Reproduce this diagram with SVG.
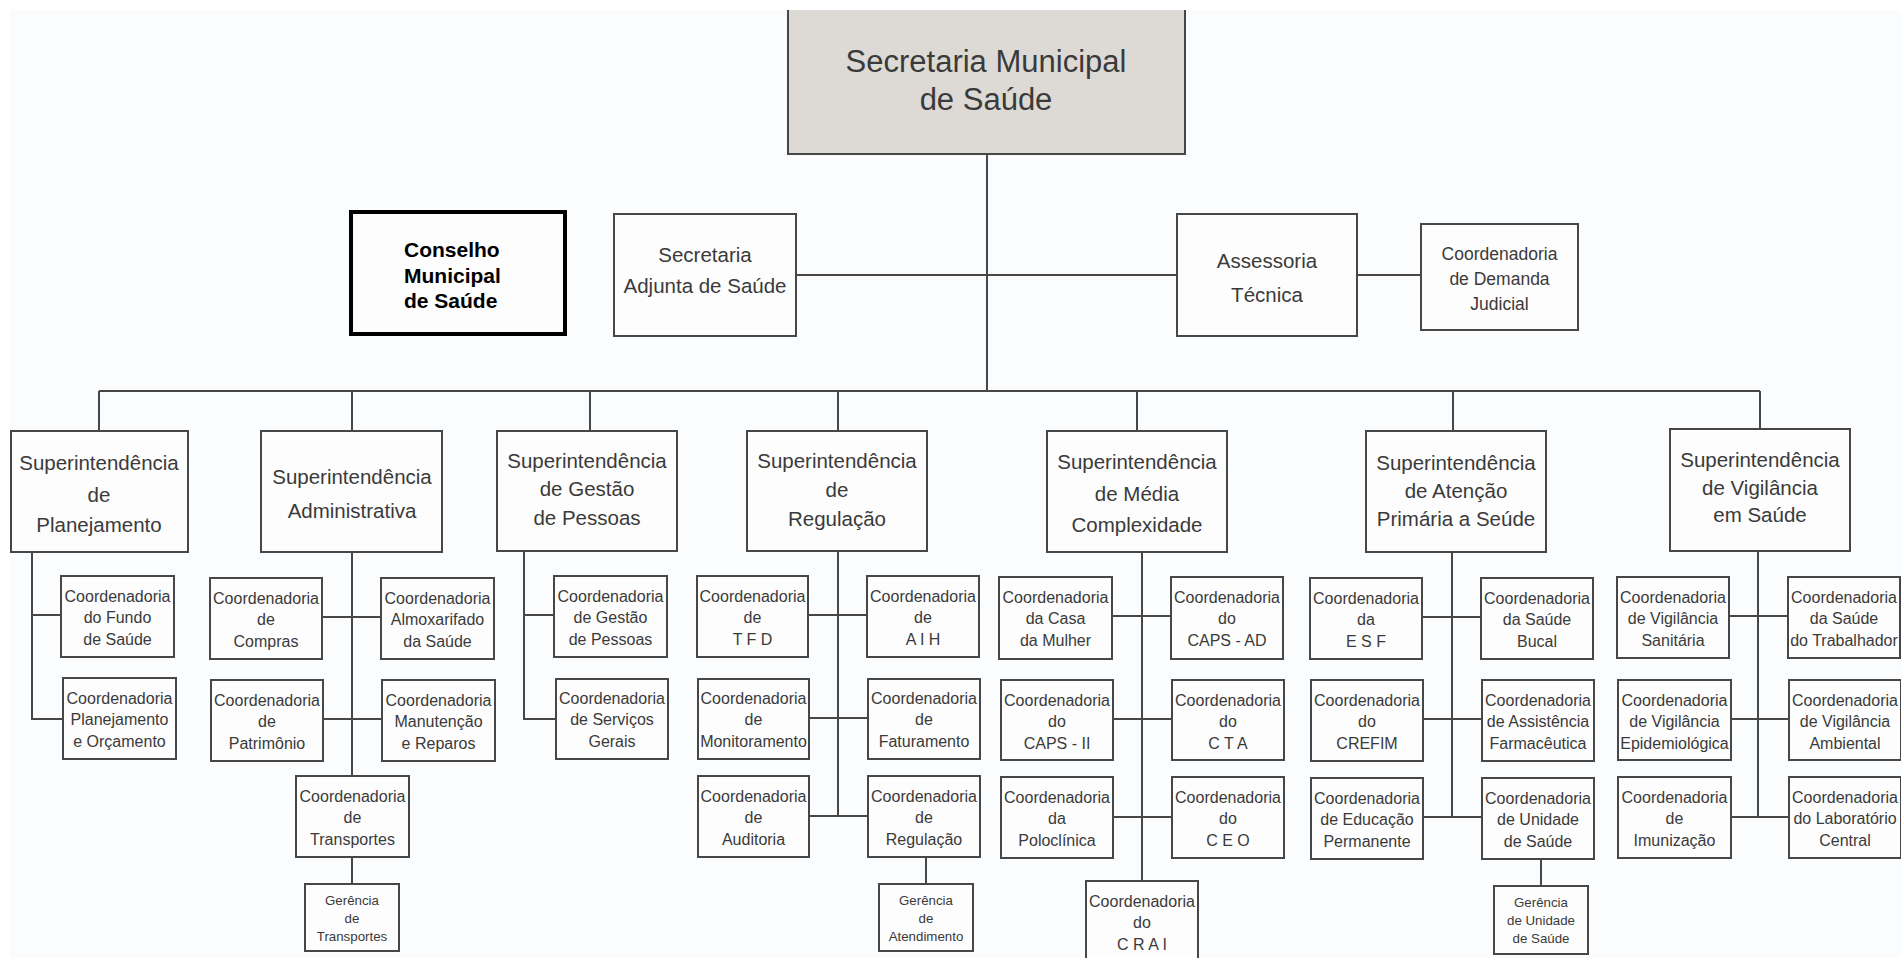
<svg xmlns="http://www.w3.org/2000/svg" width="1901" height="958" viewBox="0 0 1901 958">
<style>
.bg{fill:#fbfcfd}
.box{fill:#fdfdfd;stroke:#474747;stroke-width:2}
.cn{fill:none;stroke:#474747;stroke-width:2}
text{font-family:"Liberation Sans",Arial,sans-serif;fill:#3a3a3a;text-anchor:middle}
.ti{font-size:31px}
.su{font-size:20.5px}
.md{font-size:17.5px}
.co{font-size:16px}
.ge{font-size:13.3px}
.bd{font-size:21px;font-weight:bold;fill:#000;text-anchor:start}
</style>
<rect width="1901" height="958" fill="#ffffff"/>
<rect class="bg" x="10" y="10" width="1891" height="948"/>

<g id="connectors">
<path class="cn" d="M987 154V391M796 275H1177M1357 275H1421M99 391H1760M99 391V431M352 391V431M590 391V431M838 391V431M1137 391V431M1453 391V431M1760 391V429"/>
<path class="cn" d="M32 552V719H63M32 615H61"/>
<path class="cn" d="M352 552V776M322 617H381M323 719H382M352 857V884"/>
<path class="cn" d="M524 551V719H556M524 615H554"/>
<path class="cn" d="M838 551V816M808 615H867M809 718H868M809 816H868M926 857V884"/>
<path class="cn" d="M1142 552V881M1112 616H1171M1113 719H1172M1113 817H1172"/>
<path class="cn" d="M1452 552V817M1422 617H1481M1423 719H1482M1423 817H1482M1541 859V886"/>
<path class="cn" d="M1758 551V817M1729 616H1788M1731 719H1789M1731 817H1789"/>
</g>

<g id="secretaria-municipal">
<rect x="788" y="10" width="397" height="144" fill="#dddad6"/>
<path class="cn" d="M788 10V154H1185V10"/>
<text class="ti" x="986" y="72">Secretaria Municipal</text>
<text class="ti" x="986" y="110">de Saúde</text>
</g>

<g id="conselho">
<rect x="351" y="212" width="214" height="122" fill="#fdfdfd" stroke="#000" stroke-width="4"/>
<text class="bd" x="404" y="257">Conselho</text>
<text class="bd" x="404" y="283">Municipal</text>
<text class="bd" x="404" y="308">de Saúde</text>
</g>

<g id="secretaria-adjunta">
<rect class="box" x="614" y="214" width="182" height="122"/>
<text class="su" x="705" y="262">Secretaria</text>
<text class="su" x="705" y="293">Adjunta de Saúde</text>
</g>

<g id="assessoria">
<rect class="box" x="1177" y="214" width="180" height="122"/>
<text class="su" x="1267" y="268">Assessoria</text>
<text class="su" x="1267" y="302">Técnica</text>
</g>

<g id="demanda-judicial">
<rect class="box" x="1421" y="224" width="157" height="106"/>
<text class="md" x="1499.5" y="260">Coordenadoria</text>
<text class="md" x="1499.5" y="285">de Demanda</text>
<text class="md" x="1499.5" y="310">Judicial</text>
</g>

<g id="sup-planejamento">
<rect class="box" x="11" y="431" width="177" height="121"/>
<text class="su" x="99" y="470">Superintendência</text>
<text class="su" x="99" y="502">de</text>
<text class="su" x="99" y="532">Planejamento</text>
</g>
<g id="sup-administrativa">
<rect class="box" x="261" y="431" width="181" height="121"/>
<text class="su" x="352" y="484">Superintendência</text>
<text class="su" x="352" y="518">Administrativa</text>
</g>
<g id="sup-gestao">
<rect class="box" x="497" y="431" width="180" height="120"/>
<text class="su" x="587" y="468">Superintendência</text>
<text class="su" x="587" y="496">de Gestão</text>
<text class="su" x="587" y="525">de Pessoas</text>
</g>
<g id="sup-regulacao">
<rect class="box" x="747" y="431" width="180" height="120"/>
<text class="su" x="837" y="468">Superintendência</text>
<text class="su" x="837" y="497">de</text>
<text class="su" x="837" y="526">Regulação</text>
</g>
<g id="sup-media">
<rect class="box" x="1047" y="431" width="180" height="121"/>
<text class="su" x="1137" y="469">Superintendência</text>
<text class="su" x="1137" y="501">de Média</text>
<text class="su" x="1137" y="532">Complexidade</text>
</g>
<g id="sup-atencao">
<rect class="box" x="1366" y="431" width="180" height="121"/>
<text class="su" x="1456" y="470">Superintendência</text>
<text class="su" x="1456" y="498">de Atenção</text>
<text class="su" x="1456" y="526">Primária a Seúde</text>
</g>
<g id="sup-vigilancia">
<rect class="box" x="1670" y="429" width="180" height="122"/>
<text class="su" x="1760" y="467">Superintendência</text>
<text class="su" x="1760" y="495">de Vigilância</text>
<text class="su" x="1760" y="522">em Saúde</text>
</g>

<g id="c-fundo"><rect class="box" x="61" y="576" width="113" height="81"/>
<text class="co" x="117.5" y="602">Coordenadoria</text><text class="co" x="117.5" y="623">do Fundo</text><text class="co" x="117.5" y="645">de Saúde</text></g>
<g id="c-planorc"><rect class="box" x="63" y="678" width="113" height="81"/>
<text class="co" x="119.5" y="704">Coordenadoria</text><text class="co" x="119.5" y="725">Planejamento</text><text class="co" x="119.5" y="747">e Orçamento</text></g>

<g id="c-compras"><rect class="box" x="210" y="578" width="112" height="81"/>
<text class="co" x="266" y="604">Coordenadoria</text><text class="co" x="266" y="625">de</text><text class="co" x="266" y="647">Compras</text></g>
<g id="c-almox"><rect class="box" x="381" y="578" width="113" height="81"/>
<text class="co" x="437.5" y="604">Coordenadoria</text><text class="co" x="437.5" y="625">Almoxarifado</text><text class="co" x="437.5" y="647">da Saúde</text></g>
<g id="c-patrimonio"><rect class="box" x="211" y="680" width="112" height="81"/>
<text class="co" x="267" y="706">Coordenadoria</text><text class="co" x="267" y="727">de</text><text class="co" x="267" y="749">Patrimônio</text></g>
<g id="c-manutencao"><rect class="box" x="382" y="680" width="113" height="81"/>
<text class="co" x="438.5" y="706">Coordenadoria</text><text class="co" x="438.5" y="727">Manutenção</text><text class="co" x="438.5" y="749">e Reparos</text></g>
<g id="c-transportes"><rect class="box" x="296" y="776" width="113" height="81"/>
<text class="co" x="352.5" y="802">Coordenadoria</text><text class="co" x="352.5" y="823">de</text><text class="co" x="352.5" y="845">Transportes</text></g>
<g id="g-transportes"><rect class="box" x="305" y="884" width="94" height="67"/>
<text class="ge" x="352" y="905">Gerência</text><text class="ge" x="352" y="923">de</text><text class="ge" x="352" y="941">Transportes</text></g>

<g id="c-gestpessoas"><rect class="box" x="554" y="576" width="113" height="81"/>
<text class="co" x="610.5" y="602">Coordenadoria</text><text class="co" x="610.5" y="623">de Gestão</text><text class="co" x="610.5" y="645">de Pessoas</text></g>
<g id="c-servicos"><rect class="box" x="556" y="679" width="112" height="80"/>
<text class="co" x="612" y="704">Coordenadoria</text><text class="co" x="612" y="725">de Serviços</text><text class="co" x="612" y="747">Gerais</text></g>

<g id="c-tfd"><rect class="box" x="697" y="576" width="111" height="81"/>
<text class="co" x="752.5" y="602">Coordenadoria</text><text class="co" x="752.5" y="623">de</text><text class="co" x="752.5" y="645">T F D</text></g>
<g id="c-aih"><rect class="box" x="867" y="576" width="112" height="81"/>
<text class="co" x="923" y="602">Coordenadoria</text><text class="co" x="923" y="623">de</text><text class="co" x="923" y="645">A I H</text></g>
<g id="c-monit"><rect class="box" x="698" y="679" width="111" height="80"/>
<text class="co" x="753.5" y="704">Coordenadoria</text><text class="co" x="753.5" y="725">de</text><text class="co" x="753.5" y="747">Monitoramento</text></g>
<g id="c-fatur"><rect class="box" x="868" y="679" width="112" height="80"/>
<text class="co" x="924" y="704">Coordenadoria</text><text class="co" x="924" y="725">de</text><text class="co" x="924" y="747">Faturamento</text></g>
<g id="c-audit"><rect class="box" x="698" y="776" width="111" height="81"/>
<text class="co" x="753.5" y="802">Coordenadoria</text><text class="co" x="753.5" y="823">de</text><text class="co" x="753.5" y="845">Auditoria</text></g>
<g id="c-regul"><rect class="box" x="868" y="776" width="112" height="81"/>
<text class="co" x="924" y="802">Coordenadoria</text><text class="co" x="924" y="823">de</text><text class="co" x="924" y="845">Regulação</text></g>
<g id="g-atend"><rect class="box" x="879" y="884" width="94" height="67"/>
<text class="ge" x="926" y="905">Gerência</text><text class="ge" x="926" y="923">de</text><text class="ge" x="926" y="941">Atendimento</text></g>

<g id="c-casa"><rect class="box" x="999" y="577" width="113" height="82"/>
<text class="co" x="1055.5" y="603">Coordenadoria</text><text class="co" x="1055.5" y="624">da Casa</text><text class="co" x="1055.5" y="646">da Mulher</text></g>
<g id="c-capsad"><rect class="box" x="1171" y="577" width="112" height="82"/>
<text class="co" x="1227" y="603">Coordenadoria</text><text class="co" x="1227" y="624">do</text><text class="co" x="1227" y="646">CAPS - AD</text></g>
<g id="c-capsii"><rect class="box" x="1001" y="680" width="112" height="80"/>
<text class="co" x="1057" y="706">Coordenadoria</text><text class="co" x="1057" y="727">do</text><text class="co" x="1057" y="749">CAPS - II</text></g>
<g id="c-cta"><rect class="box" x="1172" y="680" width="112" height="80"/>
<text class="co" x="1228" y="706">Coordenadoria</text><text class="co" x="1228" y="727">do</text><text class="co" x="1228" y="749">C T A</text></g>
<g id="c-polo"><rect class="box" x="1001" y="777" width="112" height="81"/>
<text class="co" x="1057" y="803">Coordenadoria</text><text class="co" x="1057" y="824">da</text><text class="co" x="1057" y="846">Poloclínica</text></g>
<g id="c-ceo"><rect class="box" x="1172" y="777" width="112" height="81"/>
<text class="co" x="1228" y="803">Coordenadoria</text><text class="co" x="1228" y="824">do</text><text class="co" x="1228" y="846">C E O</text></g>
<g id="c-crai"><rect class="box" x="1086" y="881" width="112" height="82"/>
<text class="co" x="1142" y="907">Coordenadoria</text><text class="co" x="1142" y="928">do</text><text class="co" x="1142" y="950">C R A I</text></g>

<g id="c-esf"><rect class="box" x="1310" y="578" width="112" height="81"/>
<text class="co" x="1366" y="604">Coordenadoria</text><text class="co" x="1366" y="625">da</text><text class="co" x="1366" y="647">E S F</text></g>
<g id="c-bucal"><rect class="box" x="1481" y="578" width="112" height="81"/>
<text class="co" x="1537" y="604">Coordenadoria</text><text class="co" x="1537" y="625">da Saúde</text><text class="co" x="1537" y="647">Bucal</text></g>
<g id="c-crefim"><rect class="box" x="1311" y="680" width="112" height="81"/>
<text class="co" x="1367" y="706">Coordenadoria</text><text class="co" x="1367" y="727">do</text><text class="co" x="1367" y="749">CREFIM</text></g>
<g id="c-farm"><rect class="box" x="1482" y="680" width="112" height="81"/>
<text class="co" x="1538" y="706">Coordenadoria</text><text class="co" x="1538" y="727">de Assistência</text><text class="co" x="1538" y="749">Farmacêutica</text></g>
<g id="c-educ"><rect class="box" x="1311" y="778" width="112" height="81"/>
<text class="co" x="1367" y="804">Coordenadoria</text><text class="co" x="1367" y="825">de Educação</text><text class="co" x="1367" y="847">Permanente</text></g>
<g id="c-unid"><rect class="box" x="1482" y="778" width="112" height="81"/>
<text class="co" x="1538" y="804">Coordenadoria</text><text class="co" x="1538" y="825">de Unidade</text><text class="co" x="1538" y="847">de Saúde</text></g>
<g id="g-unid"><rect class="box" x="1494" y="886" width="94" height="68"/>
<text class="ge" x="1541" y="907">Gerência</text><text class="ge" x="1541" y="925">de Unidade</text><text class="ge" x="1541" y="943">de Saúde</text></g>

<g id="c-sanit"><rect class="box" x="1617" y="577" width="112" height="81"/>
<text class="co" x="1673" y="603">Coordenadoria</text><text class="co" x="1673" y="624">de Vigilância</text><text class="co" x="1673" y="646">Sanitária</text></g>
<g id="c-trab"><rect class="box" x="1788" y="577" width="112" height="81"/>
<text class="co" x="1844" y="603">Coordenadoria</text><text class="co" x="1844" y="624">da Saúde</text><text class="co" x="1844" y="646">do Trabalhador</text></g>
<g id="c-epid"><rect class="box" x="1618" y="680" width="113" height="80"/>
<text class="co" x="1674.5" y="706">Coordenadoria</text><text class="co" x="1674.5" y="727">de Vigilância</text><text class="co" x="1674.5" y="749">Epidemiológica</text></g>
<g id="c-amb"><rect class="box" x="1789" y="680" width="112" height="80"/>
<text class="co" x="1845" y="706">Coordenadoria</text><text class="co" x="1845" y="727">de Vigilância</text><text class="co" x="1845" y="749">Ambiental</text></g>
<g id="c-imun"><rect class="box" x="1618" y="777" width="113" height="81"/>
<text class="co" x="1674.5" y="803">Coordenadoria</text><text class="co" x="1674.5" y="824">de</text><text class="co" x="1674.5" y="846">Imunização</text></g>
<g id="c-lab"><rect class="box" x="1789" y="777" width="112" height="81"/>
<text class="co" x="1845" y="803">Coordenadoria</text><text class="co" x="1845" y="824">do Laboratório</text><text class="co" x="1845" y="846">Central</text></g>
</svg>
